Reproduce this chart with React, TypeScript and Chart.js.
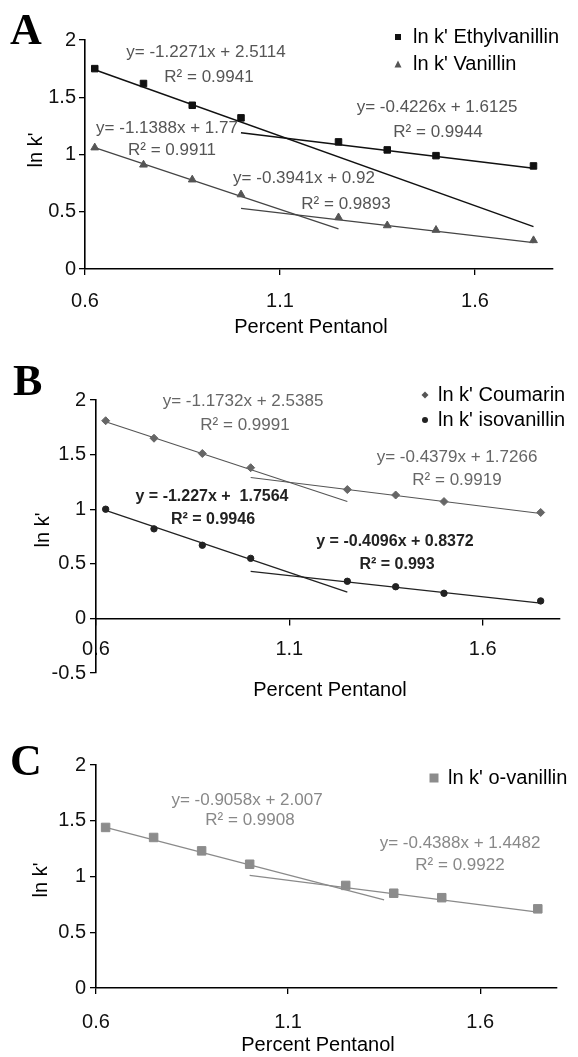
import React, { useEffect, useRef } from "react";
import { Chart, registerables } from "chart.js";

Chart.register(...registerables);

// ---------- data ----------
const xValues = [0.625, 0.75, 0.875, 1.0, 1.25, 1.375, 1.5, 1.75];

// Panel A
const ethylvanillin = [1.75, 1.62, 1.43, 1.32, 1.11, 1.04, 0.99, 0.9];
const vanillin = [1.06, 0.91, 0.78, 0.65, 0.45, 0.38, 0.34, 0.25];
const ethylFit1X = [0.625, 1.75];
const ethylFit1Y = [1.74, 0.37];
const ethylFit2X = [1.0, 1.75];
const ethylFit2Y = [1.19, 0.88];
const vanFit1X = [0.625, 1.25];
const vanFit1Y = [1.06, 0.35];
const vanFit2X = [1.0, 1.75];
const vanFit2Y = [0.53, 0.23];

// Panel B
const coumarin = [1.81, 1.65, 1.51, 1.38, 1.18, 1.13, 1.07, 0.97];
const isovanillin = [1.0, 0.82, 0.67, 0.55, 0.34, 0.29, 0.23, 0.16];
const coumFit1X = [0.625, 1.25];
const coumFit1Y = [1.8, 1.07];
const coumFit2X = [1.0, 1.75];
const coumFit2Y = [1.29, 0.96];
const isoFit1X = [0.625, 1.25];
const isoFit1Y = [0.99, 0.24];
const isoFit2X = [1.0, 1.75];
const isoFit2Y = [0.43, 0.14];

// Panel C
const oVanillin = [1.44, 1.35, 1.23, 1.11, 0.92, 0.85, 0.81, 0.71];
const oFit1X = [0.625, 1.35];
const oFit1Y = [1.44, 0.79];
const oFit2X = [1.0, 1.75];
const oFit2Y = [1.01, 0.68];

// ticks
const xTickValues = [0.6, 1.1, 1.6];
const xTickLabels = ["0.6", "1.1", "1.6"];
const yTickValuesAC = [0, 0.5, 1, 1.5, 2];
const yTickLabelsAC = ["0", "0.5", "1", "1.5", "2"];
const yTickValuesB = [-0.5, 0, 0.5, 1, 1.5, 2];
const yTickLabelsB = ["-0.5", "0", "0.5", "1", "1.5", "2"];

// labels
const legendA = ["ln k' Ethylvanillin", "ln k' Vanillin"];
const legendB = ["ln k' Coumarin", "ln k' isovanillin"];
const legendC = ["ln k' o-vanillin"];
const eqA = ["y= -1.2271x + 2.5114", "R\u00B2 = 0.9941", "y= -1.1388x + 1.77", "R\u00B2 = 0.9911", "y= -0.4226x + 1.6125", "R\u00B2 = 0.9944", "y= -0.3941x + 0.92", "R\u00B2 = 0.9893"];
const eqB = ["y= -1.1732x + 2.5385", "R\u00B2 = 0.9991", "y= -0.4379x + 1.7266", "R\u00B2 = 0.9919", "y = -1.227x +  1.7564", "R\u00B2 = 0.9946", "y = -0.4096x + 0.8372", "R\u00B2 = 0.993"];
const eqC = ["y= -0.9058x + 2.007", "R\u00B2 = 0.9908", "y= -0.4388x + 1.4482", "R\u00B2 = 0.9922"];
const xTitle = "Percent Pentanol";
const yTitle = "ln k'";

// ---------- styling ----------
const W = 578;
const SANS = "'Liberation Sans', Arial, sans-serif";
const SERIF = "'Liberation Serif', 'Times New Roman', serif";

type TextItem = {
  text: string;
  x: number;
  y: number;
  font: string;
  color: string;
  align?: CanvasTextAlign;
  baseline?: CanvasTextBaseline;
  rotate?: boolean;
};
type LegendItem = { label: string; shape: string; color: string; size: number; x: number; y: number; textX: number };

const pts = (xs: number[], ys: number[]) => xs.map((x, i) => ({ x, y: ys[i] }));

function markers(ys: number[], style: string, radius: number, color: string) {
  return {
    data: pts(xValues, ys),
    pointStyle: style,
    pointRadius: radius,
    pointBackgroundColor: color,
    pointBorderColor: color,
    pointBorderWidth: 1,
    showLine: false,
  };
}
function fit(xs: number[], ys: number[], color: string, width: number) {
  return {
    data: pts(xs, ys),
    showLine: true,
    pointRadius: 0,
    borderColor: color,
    borderWidth: width,
    fill: false,
  };
}

function drawShape(ctx: CanvasRenderingContext2D, shape: string, x: number, y: number, s: number, color: string) {
  ctx.fillStyle = color;
  ctx.beginPath();
  if (shape === "rect") {
    ctx.rect(x - s / 2, y - s / 2, s, s);
  } else if (shape === "triangle") {
    ctx.moveTo(x, y - s / 2);
    ctx.lineTo(x + s / 2, y + s / 2);
    ctx.lineTo(x - s / 2, y + s / 2);
    ctx.closePath();
  } else if (shape === "diamond") {
    ctx.moveTo(x, y - s / 2);
    ctx.lineTo(x + s / 2, y);
    ctx.lineTo(x, y + s / 2);
    ctx.lineTo(x - s / 2, y);
    ctx.closePath();
  } else {
    ctx.arc(x, y, s / 2, 0, Math.PI * 2);
  }
  ctx.fill();
}

type PanelCfg = {
  top: number;
  height: number;
  area: { left: number; right: number; top: number; bottom: number };
  yMin: number;
  yMax: number;
  yTicks: number[];
  yLabels: string[];
  xAtZero: boolean;
  xPad: number;
  yPad: number;
  datasets: any[];
  texts: TextItem[];
  legend: LegendItem[];
};

const eqFont = `17px ${SANS}`;
const eqBold = `bold 16px ${SANS}`;
const titleFont = `20px ${SANS}`;
const letterFont = `bold 44px ${SERIF}`;
const legendFont = `20px ${SANS}`;

function eqs(labels: string[], pos: number[][], font: string[], color: string[]): TextItem[] {
  return labels.map((t, i) => ({ text: t, x: pos[i][0], y: pos[i][1], font: font[i], color: color[i], align: "center", baseline: "middle" }));
}

const panelA: PanelCfg = {
  top: 0,
  height: 340,
  area: { left: 85, right: 553, top: 40, bottom: 269 },
  yMin: 0,
  yMax: 2,
  yTicks: yTickValuesAC,
  yLabels: yTickLabelsAC,
  xAtZero: false,
  xPad: 14,
  yPad: 3,
  datasets: [
    markers(ethylvanillin, "rect", 4.6, "#111"),
    markers(vanillin, "triangle", 4.5, "#555"),
    fit(ethylFit1X, ethylFit1Y, "#111", 1.5),
    fit(ethylFit2X, ethylFit2Y, "#111", 1.5),
    fit(vanFit1X, vanFit1Y, "#444", 1.2),
    fit(vanFit2X, vanFit2Y, "#444", 1.2),
  ],
  texts: [
    { text: "A", x: 10, y: 44, font: letterFont, color: "#000", align: "left", baseline: "alphabetic" },
    ...eqs(eqA, [[206, 52], [209, 77], [167, 128], [172, 150], [437, 107], [438, 132], [304, 178], [346, 204]], Array(8).fill(eqFont), Array(8).fill("#555")),
    { text: yTitle, x: 36, y: 150, font: titleFont, color: "#000", align: "center", baseline: "middle", rotate: true },
    { text: xTitle, x: 311, y: 327, font: titleFont, color: "#000", align: "center", baseline: "middle" },
  ],
  legend: [
    { label: legendA[0], shape: "rect", color: "#111", size: 6, x: 398, y: 37, textX: 413 },
    { label: legendA[1], shape: "triangle", color: "#555", size: 7, x: 398, y: 64, textX: 413 },
  ],
};

const panelB: PanelCfg = {
  top: 340,
  height: 375,
  area: { left: 96, right: 560, top: 60, bottom: 333 },
  yMin: -0.5,
  yMax: 2,
  yTicks: yTickValuesB,
  yLabels: yTickLabelsB,
  xAtZero: true,
  xPad: 13,
  yPad: 4,
  datasets: [
    markers(coumarin, "rectRot", 4, "#666"),
    markers(isovanillin, "circle", 3.2, "#222"),
    fit(coumFit1X, coumFit1Y, "#555", 1.1),
    fit(coumFit2X, coumFit2Y, "#555", 1.1),
    fit(isoFit1X, isoFit1Y, "#222", 1.3),
    fit(isoFit2X, isoFit2Y, "#222", 1.3),
  ],
  texts: [
    { text: "B", x: 13, y: 55, font: letterFont, color: "#000", align: "left", baseline: "alphabetic" },
    ...eqs(
      eqB,
      [[243, 61], [245, 85], [457, 117], [457, 140], [212, 157], [213, 180], [395, 202], [397, 225]],
      [eqFont, eqFont, eqFont, eqFont, eqBold, eqBold, eqBold, eqBold],
      ["#666", "#666", "#666", "#666", "#222", "#222", "#222", "#222"]
    ),
    { text: yTitle, x: 43, y: 190, font: titleFont, color: "#000", align: "center", baseline: "middle", rotate: true },
    { text: xTitle, x: 330, y: 350, font: titleFont, color: "#000", align: "center", baseline: "middle" },
  ],
  legend: [
    { label: legendB[0], shape: "diamond", color: "#555", size: 7, x: 425, y: 55, textX: 438 },
    { label: legendB[1], shape: "circle", color: "#222", size: 6, x: 425, y: 80, textX: 438 },
  ],
};

const panelC: PanelCfg = {
  top: 715,
  height: 342,
  area: { left: 96, right: 557, top: 50, bottom: 273 },
  yMin: 0,
  yMax: 2,
  yTicks: yTickValuesAC,
  yLabels: yTickLabelsAC,
  xAtZero: false,
  xPad: 16,
  yPad: 4,
  datasets: [markers(oVanillin, "rect", 6, "#8c8c8c"), fit(oFit1X, oFit1Y, "#8a8a8a", 1.2), fit(oFit2X, oFit2Y, "#8a8a8a", 1.2)],
  texts: [
    { text: "C", x: 10, y: 60, font: letterFont, color: "#000", align: "left", baseline: "alphabetic" },
    ...eqs(eqC, [[247, 85], [250, 105], [460, 128], [460, 150]], Array(4).fill(eqFont), Array(4).fill("#888")),
    { text: yTitle, x: 41, y: 165, font: titleFont, color: "#000", align: "center", baseline: "middle", rotate: true },
    { text: xTitle, x: 318, y: 330, font: titleFont, color: "#000", align: "center", baseline: "middle" },
  ],
  legend: [{ label: legendC[0], shape: "rect", color: "#8c8c8c", size: 9, x: 434, y: 63, textX: 448 }],
};

function Panel({ cfg }: { cfg: PanelCfg }) {
  const ref = useRef<HTMLCanvasElement>(null);
  useEffect(() => {
    const canvas = ref.current;
    if (!canvas) return;
    const textPlugin = {
      id: "panelText",
      afterDraw(chart: any) {
        const ctx: CanvasRenderingContext2D = chart.ctx;
        ctx.save();
        for (const t of cfg.texts) {
          ctx.font = t.font;
          ctx.fillStyle = t.color;
          ctx.textAlign = t.align || "left";
          ctx.textBaseline = t.baseline || "middle";
          if (t.rotate) {
            ctx.save();
            ctx.translate(t.x, t.y);
            ctx.rotate(-Math.PI / 2);
            ctx.fillText(t.text, 0, 0);
            ctx.restore();
          } else {
            ctx.fillText(t.text, t.x, t.y);
          }
        }
        for (const l of cfg.legend) {
          drawShape(ctx, l.shape, l.x, l.y, l.size, l.color);
          ctx.font = legendFont;
          ctx.fillStyle = "#000";
          ctx.textAlign = "left";
          ctx.textBaseline = "middle";
          ctx.fillText(l.label, l.textX, l.y);
        }
        ctx.restore();
      },
    };
    const axisGrid = { display: true, drawOnChartArea: false, drawTicks: true, tickLength: 6, color: "#000", lineWidth: 1.3 };
    const axisBorder = { display: true, color: "#000", width: 1.6 };
    const bottomSpace = cfg.height - cfg.area.bottom;
    const chart = new Chart(canvas, {
      type: "scatter",
      data: { datasets: cfg.datasets },
      options: {
        animation: false,
        responsive: false,
        maintainAspectRatio: false,
        layout: {
          padding: { top: cfg.area.top, left: 0, right: W - cfg.area.right, bottom: cfg.xAtZero ? bottomSpace : 0 },
        },
        plugins: { legend: { display: false }, tooltip: { enabled: false } },
        scales: {
          x: {
            type: "linear",
            position: cfg.xAtZero ? ({ y: 0 } as any) : "bottom",
            min: 0.6,
            max: 1.8,
            afterBuildTicks: (s: any) => {
              s.ticks = xTickValues.map((v) => ({ value: v }));
            },
            afterFit: (s: any) => {
              s.height = cfg.xAtZero ? 0 : bottomSpace;
            },
            ticks: {
              callback: (_v: any, i: number) => xTickLabels[i],
              font: { family: SANS, size: 20 },
              color: "#111",
              padding: cfg.xPad,
              maxRotation: 0,
            },
            grid: axisGrid,
            border: axisBorder,
          },
          y: {
            type: "linear",
            position: "left",
            min: cfg.yMin,
            max: cfg.yMax,
            afterBuildTicks: (s: any) => {
              s.ticks = cfg.yTicks.map((v) => ({ value: v }));
            },
            afterFit: (s: any) => {
              s.width = cfg.area.left;
            },
            ticks: {
              callback: (_v: any, i: number) => cfg.yLabels[i],
              font: { family: SANS, size: 20 },
              color: "#111",
              padding: cfg.yPad,
            },
            grid: axisGrid,
            border: axisBorder,
          },
        },
      } as any,
      plugins: [textPlugin],
    });
    return () => chart.destroy();
  }, [cfg]);
  return <canvas ref={ref} width={W} height={cfg.height} style={{ position: "absolute", left: 0, top: cfg.top, width: W, height: cfg.height }} />;
}

export default function App() {
  return (
    <div style={{ position: "absolute", left: 0, top: 0, width: W, height: 1057, background: "#fff", overflow: "hidden" }}>
      <Panel cfg={panelA} />
      <Panel cfg={panelB} />
      <Panel cfg={panelC} />
    </div>
  );
}
